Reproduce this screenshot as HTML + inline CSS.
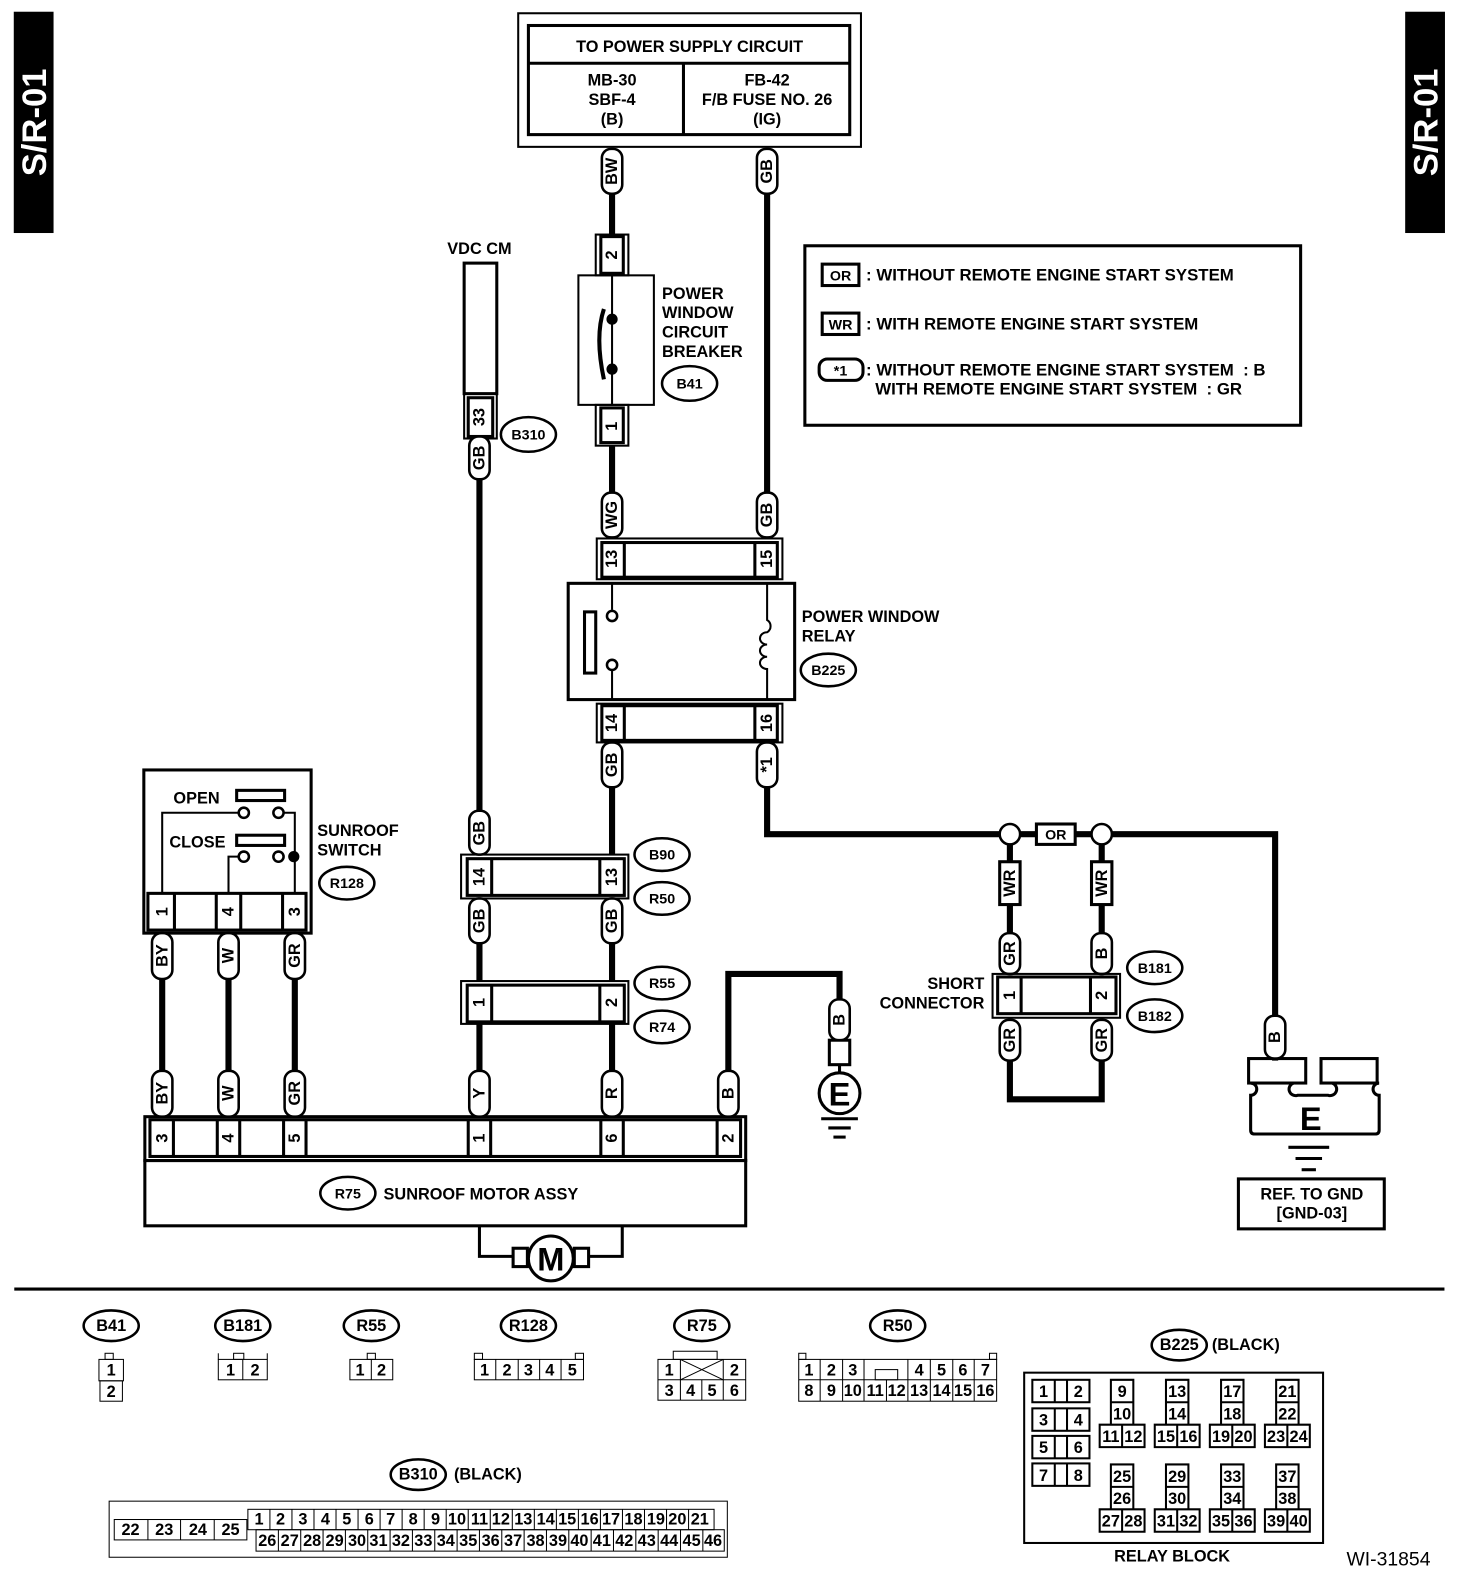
<!DOCTYPE html>
<html><head><meta charset="utf-8"><style>
html,body{margin:0;padding:0;background:#fff}
svg{display:block}
text{font-family:"Liberation Sans",sans-serif;font-weight:bold;font-size:16px;fill:#000}
.s{font-size:13px}
.o{font-size:14px}
.lg{font-size:16.5px}
.n{font-weight:normal;font-size:14px}
.w{fill:#fff;font-size:34px}
</style></head><body>
<svg width="1472" height="1596" viewBox="0 0 1443 1565" preserveAspectRatio="none" xmlns="http://www.w3.org/2000/svg">
<g fill="none" stroke="#000">
<rect x="14" y="12" width="38" height="216" fill="#000"/>
<rect x="1378" y="12" width="38" height="216" fill="#000"/>
<rect x="508" y="13" width="336" height="131" stroke-width="2"/>
<rect x="518" y="25" width="315" height="107" stroke-width="3"/>
<line x1="518" y1="62" x2="833" y2="62" stroke-width="3"/>
<line x1="670" y1="62" x2="670" y2="132" stroke-width="3"/>
<g stroke-width="6">
<line x1="600" y1="190" x2="600" y2="232"/>
<line x1="600" y1="437" x2="600" y2="483"/>
<line x1="752" y1="190" x2="752" y2="483"/>
<line x1="470" y1="468" x2="470" y2="795"/>
<line x1="600" y1="770" x2="600" y2="838"/>
<line x1="470" y1="925" x2="470" y2="962"/>
<line x1="600" y1="925" x2="600" y2="962"/>
<line x1="470" y1="1003" x2="470" y2="1050"/>
<line x1="600" y1="1003" x2="600" y2="1050"/>
<polyline points="752,770 752,818 1250,818 1250,1040"/>
<line x1="990" y1="828" x2="990" y2="915"/>
<line x1="1080" y1="828" x2="1080" y2="915"/>
<polyline points="990,1040 990,1078 1080,1078 1080,1040"/>
<polyline points="714,1050 714,955 823,955 823,980"/>
<line x1="159" y1="960" x2="159" y2="1050"/>
<line x1="224" y1="960" x2="224" y2="1050"/>
<line x1="289" y1="960" x2="289" y2="1050"/>
</g>
<rect x="584" y="230" width="32" height="40" stroke-width="2"/>
<rect x="589" y="232" width="22" height="36" stroke-width="3"/>
<rect x="567" y="270" width="74" height="127" stroke-width="2"/>
<line x1="600" y1="270" x2="600" y2="397" stroke-width="2"/>
<path d="M592 303 Q583 330 592 372" stroke-width="4"/>
<circle cx="600" cy="313" r="5" fill="#000"/><circle cx="600" cy="362" r="5" fill="#000"/>
<rect x="584" y="397" width="32" height="40" stroke-width="2"/>
<rect x="589" y="400" width="22" height="34" stroke-width="3"/>
<rect x="455" y="258" width="32" height="128" stroke-width="3"/>
<rect x="455" y="386" width="32" height="44" stroke-width="2"/>
<rect x="459" y="390" width="24" height="38" stroke-width="3"/>
<ellipse cx="518" cy="426" rx="27" ry="17" stroke-width="2.5"/>
<ellipse cx="676" cy="376" rx="27" ry="17" stroke-width="2.5"/>
<rect x="585" y="528" width="182" height="40" stroke-width="2"/>
<rect x="590" y="532" width="172" height="34" stroke-width="3"/>
<line x1="612" y1="532" x2="612" y2="566" stroke-width="3"/>
<line x1="740" y1="532" x2="740" y2="566" stroke-width="3"/>
<rect x="557" y="572" width="222" height="114" stroke-width="3"/>
<rect x="573" y="600" width="11" height="60" stroke-width="3"/>
<line x1="600" y1="572" x2="600" y2="598" stroke-width="2"/>
<circle cx="600" cy="604" r="5" stroke-width="2.5"/>
<circle cx="600" cy="652" r="5" stroke-width="2.5"/>
<line x1="600" y1="658" x2="600" y2="686" stroke-width="2"/>
<path d="M752 572 V608 a7 7 0 0 1 0 12 a7 6 0 0 0 0 12 a7 6 0 0 0 0 12 a7 6 0 0 0 0 12 V686 M752 620 a7 6 0 0 0 0 12 M752 632 a7 6 0 0 0 0 12 M752 644 a7 6 0 0 0 0 12" stroke-width="2"/>
<rect x="585" y="690" width="182" height="38" stroke-width="2"/>
<rect x="590" y="692" width="172" height="34" stroke-width="3"/>
<line x1="612" y1="692" x2="612" y2="726" stroke-width="3"/>
<line x1="740" y1="692" x2="740" y2="726" stroke-width="3"/>
<ellipse cx="812" cy="657" rx="27" ry="16" stroke-width="2.5"/>
<rect x="789" y="241" width="486" height="176" stroke-width="3"/>
<rect x="806" y="259" width="36" height="21" stroke-width="3"/>
<rect x="806" y="307" width="36" height="21" stroke-width="3"/>
<rect x="803" y="352" width="43" height="21" rx="8" stroke-width="3"/>
<rect x="452" y="838" width="164" height="43" stroke-width="2"/>
<rect x="458" y="842" width="154" height="36" stroke-width="3"/>
<line x1="482" y1="842" x2="482" y2="878" stroke-width="3"/>
<line x1="588" y1="842" x2="588" y2="878" stroke-width="3"/>
<ellipse cx="649" cy="838" rx="27" ry="16" stroke-width="2.5"/>
<ellipse cx="649" cy="881" rx="27" ry="16" stroke-width="2.5"/>
<rect x="452" y="962" width="164" height="42" stroke-width="2"/>
<rect x="458" y="966" width="154" height="36" stroke-width="3"/>
<line x1="482" y1="966" x2="482" y2="1002" stroke-width="3"/>
<line x1="588" y1="966" x2="588" y2="1002" stroke-width="3"/>
<ellipse cx="649" cy="964" rx="27" ry="16" stroke-width="2.5"/>
<ellipse cx="649" cy="1007" rx="27" ry="16" stroke-width="2.5"/>
<rect x="141" y="755" width="164" height="160" stroke-width="3"/>
<rect x="145" y="876" width="155" height="36" stroke-width="3"/>
<line x1="171" y1="876" x2="171" y2="912" stroke-width="3"/>
<line x1="212" y1="876" x2="212" y2="912" stroke-width="3"/>
<line x1="236" y1="876" x2="236" y2="912" stroke-width="3"/>
<line x1="277" y1="876" x2="277" y2="912" stroke-width="3"/>
<rect x="232" y="775" width="47" height="10" stroke-width="3"/>
<rect x="232" y="819" width="47" height="10" stroke-width="3"/>
<circle cx="239" cy="797" r="5" stroke-width="2.5"/><circle cx="273" cy="797" r="5" stroke-width="2.5"/>
<circle cx="239" cy="840" r="5" stroke-width="2.5"/><circle cx="273" cy="840" r="5" stroke-width="2.5"/>
<circle cx="288" cy="840" r="5" fill="#000"/>
<polyline points="159,876 159,797 234,797" stroke-width="2"/>
<polyline points="278,797 289,797 289,876" stroke-width="2"/>
<polyline points="234,840 224,840 224,876" stroke-width="2"/>
<ellipse cx="340" cy="866" rx="27" ry="16" stroke-width="2.5"/>
<rect x="142" y="1095" width="589" height="43" stroke-width="3"/>
<rect x="147" y="1098" width="579" height="36" stroke-width="3"/>
<g stroke-width="3">
<line x1="170" y1="1098" x2="170" y2="1134"/><line x1="213" y1="1098" x2="213" y2="1134"/><line x1="235" y1="1098" x2="235" y2="1134"/><line x1="278" y1="1098" x2="278" y2="1134"/><line x1="300" y1="1098" x2="300" y2="1134"/>
<line x1="459" y1="1098" x2="459" y2="1134"/><line x1="481" y1="1098" x2="481" y2="1134"/><line x1="589" y1="1098" x2="589" y2="1134"/><line x1="611" y1="1098" x2="611" y2="1134"/><line x1="703" y1="1098" x2="703" y2="1134"/>
</g>
<rect x="142" y="1138" width="589" height="64" stroke-width="3"/>
<ellipse cx="341" cy="1170" rx="27" ry="16" stroke-width="2.5"/>
<polyline points="470,1202 470,1232 503,1232" stroke-width="3"/>
<polyline points="610,1202 610,1232 577,1232" stroke-width="3"/>
<rect x="503" y="1224" width="14" height="18" stroke-width="3"/>
<rect x="563" y="1224" width="14" height="18" stroke-width="3"/>
<circle cx="540" cy="1234" r="22" stroke-width="3" fill="#fff"/>
<circle cx="990" cy="818" r="10" stroke-width="2.5" fill="#fff"/>
<circle cx="1080" cy="818" r="10" stroke-width="2.5" fill="#fff"/>
<rect x="1016" y="808" width="38" height="20" stroke-width="3" fill="#fff"/>
<rect x="980" y="845" width="20" height="42" stroke-width="3" fill="#fff"/>
<rect x="1070" y="845" width="20" height="42" stroke-width="3" fill="#fff"/>
<rect x="973" y="955" width="125" height="43" stroke-width="2"/>
<rect x="978" y="958" width="116" height="36" stroke-width="3"/>
<line x1="1001" y1="958" x2="1001" y2="994" stroke-width="3"/>
<line x1="1069" y1="958" x2="1069" y2="994" stroke-width="3"/>
<ellipse cx="1132" cy="949" rx="27" ry="16" stroke-width="2.5"/>
<ellipse cx="1132" cy="996" rx="27" ry="16" stroke-width="2.5"/>
<rect x="813" y="1020" width="20" height="24" stroke-width="3"/>
<line x1="823" y1="1044" x2="823" y2="1052" stroke-width="3"/>
<circle cx="823" cy="1072" r="20" stroke-width="3"/>
<line x1="805" y1="1097" x2="841" y2="1097" stroke-width="3"/>
<line x1="812" y1="1106" x2="834" y2="1106" stroke-width="3"/>
<line x1="817" y1="1115" x2="829" y2="1115" stroke-width="3"/>
<rect x="1224" y="1038" width="56" height="24" stroke-width="3"/>
<rect x="1295" y="1038" width="55" height="24" stroke-width="3"/>
<path d="M1226 1062 a6 6 0 0 1 0 12 V1108 q0 4 4 4 H1348 q4 0 4 -4 V1074 a6 6 0 0 1 0 -12 M1268 1062 a6 6 0 0 0 4 12 H1302 a6 6 0 0 0 4 -12" stroke-width="3"/>
<line x1="1263" y1="1125" x2="1303" y2="1125" stroke-width="3"/>
<line x1="1270" y1="1136" x2="1296" y2="1136" stroke-width="3"/>
<line x1="1276" y1="1147" x2="1290" y2="1147" stroke-width="3"/>
<rect x="1214" y="1156" width="143" height="49" stroke-width="3"/>
<line x1="14" y1="1264" x2="1416" y2="1264" stroke-width="3"/>
<g stroke-width="2.5">
<ellipse cx="109" cy="1300" rx="27" ry="15"/><ellipse cx="238" cy="1300" rx="27" ry="15"/><ellipse cx="364" cy="1300" rx="27" ry="15"/><ellipse cx="518" cy="1300" rx="27" ry="15"/><ellipse cx="688" cy="1300" rx="27" ry="15"/><ellipse cx="880" cy="1300" rx="27" ry="15"/>
<ellipse cx="410" cy="1446" rx="27" ry="15"/><ellipse cx="1156" cy="1319" rx="27" ry="15"/>
</g>
<g stroke-width="1">
<rect x="103" y="1327" width="8" height="6"/><rect x="97" y="1333" width="24" height="21"/><rect x="98" y="1354" width="22" height="20"/>
<rect x="214" y="1333" width="48" height="20"/><line x1="238" y1="1333" x2="238" y2="1353"/><rect x="229" y="1327" width="10" height="6"/><line x1="214" y1="1327" x2="214" y2="1333"/><line x1="262" y1="1327" x2="262" y2="1333"/>
<rect x="343" y="1333" width="42" height="20"/><line x1="364" y1="1333" x2="364" y2="1353"/><rect x="360" y="1327" width="8" height="6"/>
<rect x="465" y="1333" width="107" height="20"/><line x1="486" y1="1333" x2="486" y2="1353"/><line x1="508" y1="1333" x2="508" y2="1353"/><line x1="529" y1="1333" x2="529" y2="1353"/><line x1="550" y1="1333" x2="550" y2="1353"/><rect x="465" y="1327" width="8" height="6"/><rect x="564" y="1327" width="8" height="6"/>
<rect x="660" y="1325" width="43" height="8"/><rect x="645" y="1333" width="86" height="40"/><line x1="645" y1="1353" x2="731" y2="1353"/><line x1="667" y1="1333" x2="667" y2="1373"/><line x1="709" y1="1333" x2="709" y2="1373"/><line x1="688" y1="1353" x2="688" y2="1373"/><line x1="667" y1="1333" x2="709" y2="1353"/><line x1="709" y1="1333" x2="667" y2="1353"/>
<rect x="783" y="1333" width="194" height="41"/><line x1="783" y1="1353" x2="977" y2="1353"/><rect x="783" y="1327" width="7" height="6"/><rect x="970" y="1327" width="7" height="6"/>
<line x1="804" y1="1333" x2="804" y2="1374"/><line x1="826" y1="1333" x2="826" y2="1374"/><line x1="847" y1="1333" x2="847" y2="1374"/><line x1="869" y1="1353" x2="869" y2="1374"/><line x1="890" y1="1333" x2="890" y2="1374"/><line x1="912" y1="1333" x2="912" y2="1374"/><line x1="934" y1="1333" x2="934" y2="1374"/><line x1="955" y1="1333" x2="955" y2="1374"/>
<rect x="858" y="1343" width="22" height="10"/>
<rect x="107" y="1472" width="606" height="55"/>
<rect x="112" y="1490" width="130" height="20"/><line x1="145" y1="1490" x2="145" y2="1510"/><line x1="177" y1="1490" x2="177" y2="1510"/><line x1="210" y1="1490" x2="210" y2="1510"/>
<rect x="243" y="1480" width="457" height="20"/><rect x="251" y="1500" width="459" height="21"/>
<path d="M264.6 1480v20M286.2 1480v20M307.8 1480v20M329.4 1480v20M351 1480v20M372.6 1480v20M394.2 1480v20M415.8 1480v20M437.4 1480v20M459 1480v20M480.6 1480v20M502.2 1480v20M523.8 1480v20M545.4 1480v20M567 1480v20M588.6 1480v20M610.2 1480v20M631.8 1480v20M653.4 1480v20M675 1480v20"/>
<path d="M272.9 1500v21M294.8 1500v21M316.7 1500v21M338.6 1500v21M360.5 1500v21M382.4 1500v21M404.3 1500v21M426.2 1500v21M448.1 1500v21M470 1500v21M491.9 1500v21M513.8 1500v21M535.7 1500v21M557.6 1500v21M579.5 1500v21M601.4 1500v21M623.3 1500v21M645.2 1500v21M667.1 1500v21M689 1500v21"/>
<rect x="1004" y="1346" width="293" height="167" stroke-width="2"/>
<g stroke-width="2">
<rect x="1012" y="1353" width="56" height="22"/><line x1="1034" y1="1353" x2="1034" y2="1375"/><line x1="1046" y1="1353" x2="1046" y2="1375"/>
<rect x="1012" y="1381" width="56" height="22"/><line x1="1034" y1="1381" x2="1034" y2="1403"/><line x1="1046" y1="1381" x2="1046" y2="1403"/>
<rect x="1012" y="1408" width="56" height="22"/><line x1="1034" y1="1408" x2="1034" y2="1430"/><line x1="1046" y1="1408" x2="1046" y2="1430"/>
<rect x="1012" y="1435" width="56" height="22"/><line x1="1034" y1="1435" x2="1034" y2="1457"/><line x1="1046" y1="1435" x2="1046" y2="1457"/>
<path d="M1089 1353h22v44h-22zM1089 1375h22M1078 1397h44v22h-44zM1100 1397v22"/>
<path d="M1143 1353h22v44h-22zM1143 1375h22M1132 1397h44v22h-44zM1154 1397v22"/>
<path d="M1197 1353h22v44h-22zM1197 1375h22M1186 1397h44v22h-44zM1208 1397v22"/>
<path d="M1251 1353h22v44h-22zM1251 1375h22M1240 1397h44v22h-44zM1262 1397v22"/>
<path d="M1089 1436h22v44h-22zM1089 1458h22M1078 1480h44v22h-44zM1100 1480v22"/>
<path d="M1143 1436h22v44h-22zM1143 1458h22M1132 1480h44v22h-44zM1154 1480v22"/>
<path d="M1197 1436h22v44h-22zM1197 1458h22M1186 1480h44v22h-44zM1208 1480v22"/>
<path d="M1251 1436h22v44h-22zM1251 1458h22M1240 1480h44v22h-44zM1262 1480v22"/>
</g>
</g>
<g stroke-width="2.5" fill="#fff">
<rect x="590" y="146" width="20" height="44" rx="9"/>
<rect x="742" y="146" width="20" height="44" rx="9"/>
<rect x="460" y="428" width="20" height="42" rx="9"/>
<rect x="590" y="483" width="20" height="44" rx="9"/>
<rect x="742" y="483" width="20" height="44" rx="9"/>
<rect x="590" y="728" width="20" height="44" rx="9"/>
<rect x="742" y="728" width="20" height="44" rx="9"/>
<rect x="460" y="795" width="20" height="43" rx="9"/>
<rect x="460" y="881" width="20" height="44" rx="9"/>
<rect x="590" y="881" width="20" height="44" rx="9"/>
<rect x="149" y="915" width="20" height="45" rx="9"/>
<rect x="214" y="915" width="20" height="45" rx="9"/>
<rect x="279" y="915" width="20" height="45" rx="9"/>
<rect x="149" y="1050" width="20" height="45" rx="9"/>
<rect x="214" y="1050" width="20" height="45" rx="9"/>
<rect x="279" y="1050" width="20" height="45" rx="9"/>
<rect x="460" y="1050" width="20" height="45" rx="9"/>
<rect x="590" y="1050" width="20" height="45" rx="9"/>
<rect x="704" y="1050" width="20" height="45" rx="9"/>
<rect x="813" y="980" width="20" height="40" rx="9"/>
<rect x="980" y="915" width="20" height="40" rx="9"/>
<rect x="1070" y="915" width="20" height="40" rx="9"/>
<rect x="980" y="1000" width="20" height="40" rx="9"/>
<rect x="1070" y="1000" width="20" height="40" rx="9"/>
<rect x="1240" y="996" width="20" height="42" rx="9"/>
</g>
</g>
<text class="w" transform="translate(45,120) rotate(-90)" text-anchor="middle">S/R-01</text>
<text class="w" transform="translate(1409,120) rotate(-90)" text-anchor="middle">S/R-01</text>
<text x="676" y="51" text-anchor="middle">TO POWER SUPPLY CIRCUIT</text>
<text x="600" y="84" text-anchor="middle">MB-30</text><text x="600" y="103" text-anchor="middle">SBF-4</text><text x="600" y="122" text-anchor="middle">(B)</text>
<text x="752" y="84" text-anchor="middle">FB-42</text><text x="752" y="103" text-anchor="middle">F/B FUSE NO. 26</text><text x="752" y="122" text-anchor="middle">(IG)</text>
<g class="s" text-anchor="middle">
<text transform="translate(605,168) rotate(-90)">BW</text>
<text transform="translate(757,168) rotate(-90)">GB</text>
<text transform="translate(605,250) rotate(-90)">2</text>
<text transform="translate(605,418) rotate(-90)">1</text>
<text transform="translate(475,409) rotate(-90)">33</text>
<text transform="translate(475,449) rotate(-90)">GB</text>
<text transform="translate(605,505) rotate(-90)">WG</text>
<text transform="translate(757,505) rotate(-90)">GB</text>
<text transform="translate(605,548) rotate(-90)">13</text>
<text transform="translate(757,548) rotate(-90)">15</text>
<text transform="translate(605,709) rotate(-90)">14</text>
<text transform="translate(757,709) rotate(-90)">16</text>
<text transform="translate(605,750) rotate(-90)">GB</text>
<text transform="translate(757,750) rotate(-90)">*1</text>
<text transform="translate(475,817) rotate(-90)">GB</text>
<text transform="translate(475,860) rotate(-90)">14</text>
<text transform="translate(605,860) rotate(-90)">13</text>
<text transform="translate(475,903) rotate(-90)">GB</text>
<text transform="translate(605,903) rotate(-90)">GB</text>
<text transform="translate(475,983) rotate(-90)">1</text>
<text transform="translate(605,983) rotate(-90)">2</text>
<text transform="translate(164,894) rotate(-90)">1</text>
<text transform="translate(229,894) rotate(-90)">4</text>
<text transform="translate(294,894) rotate(-90)">3</text>
<text transform="translate(164,937) rotate(-90)">BY</text>
<text transform="translate(229,937) rotate(-90)">W</text>
<text transform="translate(294,937) rotate(-90)">GR</text>
<text transform="translate(164,1072) rotate(-90)">BY</text>
<text transform="translate(229,1072) rotate(-90)">W</text>
<text transform="translate(294,1072) rotate(-90)">GR</text>
<text transform="translate(475,1072) rotate(-90)">Y</text>
<text transform="translate(605,1072) rotate(-90)">R</text>
<text transform="translate(719,1072) rotate(-90)">B</text>
<text transform="translate(164,1116) rotate(-90)">3</text>
<text transform="translate(229,1116) rotate(-90)">4</text>
<text transform="translate(294,1116) rotate(-90)">5</text>
<text transform="translate(475,1116) rotate(-90)">1</text>
<text transform="translate(605,1116) rotate(-90)">6</text>
<text transform="translate(719,1116) rotate(-90)">2</text>
<text transform="translate(828,1000) rotate(-90)">B</text>
<text transform="translate(995,866) rotate(-90)">WR</text>
<text transform="translate(1085,866) rotate(-90)">WR</text>
<text transform="translate(995,935) rotate(-90)">GR</text>
<text transform="translate(1085,935) rotate(-90)">B</text>
<text transform="translate(995,976) rotate(-90)">1</text>
<text transform="translate(1085,976) rotate(-90)">2</text>
<text transform="translate(995,1020) rotate(-90)">GR</text>
<text transform="translate(1085,1020) rotate(-90)">GR</text>
<text transform="translate(1255,1017) rotate(-90)">B</text>
</g>
<text x="470" y="249" text-anchor="middle">VDC CM</text>
<text x="649" y="293">POWER</text><text x="649" y="312">WINDOW</text><text x="649" y="331">CIRCUIT</text><text x="649" y="350">BREAKER</text>
<text x="676" y="381" text-anchor="middle" class="o">B41</text>
<text x="518" y="431" text-anchor="middle" class="o">B310</text>
<text x="786" y="610">POWER WINDOW</text><text x="786" y="629">RELAY</text>
<text x="812" y="662" text-anchor="middle" class="o">B225</text>
<text x="824" y="275" text-anchor="middle" class="o">OR</text>
<text x="824" y="323" text-anchor="middle" class="o">WR</text>
<text x="824" y="368" text-anchor="middle" class="o">*1</text>
<text x="849" y="275" class="lg">: WITHOUT REMOTE ENGINE START SYSTEM</text>
<text x="849" y="323" class="lg">: WITH REMOTE ENGINE START SYSTEM</text>
<text x="849" y="368" class="lg">: WITHOUT REMOTE ENGINE START SYSTEM &#160;: B</text>
<text x="858" y="387" class="lg">WITH REMOTE ENGINE START SYSTEM &#160;: GR</text>
<text x="170" y="788">OPEN</text><text x="166" y="831">CLOSE</text>
<text x="311" y="820">SUNROOF</text><text x="311" y="839">SWITCH</text>
<text x="340" y="871" text-anchor="middle" class="o">R128</text>
<text x="649" y="843" text-anchor="middle" class="o">B90</text><text x="649" y="886" text-anchor="middle" class="o">R50</text>
<text x="649" y="969" text-anchor="middle" class="o">R55</text><text x="649" y="1012" text-anchor="middle" class="o">R74</text>
<text x="341" y="1175" text-anchor="middle" class="o">R75</text><text x="376" y="1176">SUNROOF MOTOR ASSY</text>
<text x="540" y="1246" text-anchor="middle" style="font-size:32px">M</text>
<text x="1035" y="823" text-anchor="middle" class="o">OR</text>
<text x="965" y="970" text-anchor="end">SHORT</text><text x="965" y="989" text-anchor="end">CONNECTOR</text>
<text x="1132" y="954" text-anchor="middle" class="o">B181</text><text x="1132" y="1001" text-anchor="middle" class="o">B182</text>
<text x="823" y="1084" text-anchor="middle" style="font-size:32px">E</text>
<text x="1285" y="1108" text-anchor="middle" style="font-size:32px">E</text>
<text x="1286" y="1176" text-anchor="middle">REF. TO GND</text><text x="1286" y="1195" text-anchor="middle">[GND-03]</text>
<g text-anchor="middle" class="o">
<text x="109" y="1305">B41</text><text x="238" y="1305">B181</text><text x="364" y="1305">R55</text><text x="518" y="1305">R128</text><text x="688" y="1305">R75</text><text x="880" y="1305">R50</text>
<text x="410" y="1451">B310</text><text x="1156" y="1324">B225</text>
</g>
<text x="445" y="1451">(BLACK)</text><text x="1188" y="1324">(BLACK)</text>
<text x="1149" y="1531" text-anchor="middle">RELAY BLOCK</text>
<text x="1320" y="1535" class="n" style="font-size:19px">WI-31854</text>
<g class="n" text-anchor="middle">
<text x="109" y="1349">1</text><text x="109" y="1370">2</text>
<text x="226" y="1349">1</text><text x="250" y="1349">2</text>
<text x="353" y="1349">1</text><text x="374" y="1349">2</text>
<text x="475" y="1349">1</text><text x="497" y="1349">2</text><text x="518" y="1349">3</text><text x="539" y="1349">4</text><text x="561" y="1349">5</text>
<text x="656" y="1349">1</text><text x="720" y="1349">2</text><text x="656" y="1369">3</text><text x="677" y="1369">4</text><text x="698" y="1369">5</text><text x="720" y="1369">6</text>
<text x="793" y="1349">1</text><text x="815" y="1349">2</text><text x="836" y="1349">3</text><text x="901" y="1349">4</text><text x="923" y="1349">5</text><text x="944" y="1349">6</text><text x="966" y="1349">7</text>
</g>
<g class="n" text-anchor="middle" style="font-size:12px">
<text x="793" y="1369">8</text><text x="815" y="1369">9</text><text x="836" y="1369">10</text><text x="858" y="1369">11</text><text x="879" y="1369">12</text><text x="901" y="1369">13</text><text x="923" y="1369">14</text><text x="944" y="1369">15</text><text x="966" y="1369">16</text>
<text x="128" y="1505">22</text><text x="161" y="1505">23</text><text x="194" y="1505">24</text><text x="226" y="1505">25</text>
<text x="254" y="1495">1</text><text x="275" y="1495">2</text><text x="297" y="1495">3</text><text x="319" y="1495">4</text><text x="340" y="1495">5</text><text x="362" y="1495">6</text><text x="383" y="1495">7</text><text x="405" y="1495">8</text><text x="427" y="1495">9</text><text x="448" y="1495">10</text><text x="470" y="1495">11</text><text x="491" y="1495">12</text><text x="513" y="1495">13</text><text x="535" y="1495">14</text><text x="556" y="1495">15</text><text x="578" y="1495">16</text><text x="599" y="1495">17</text><text x="621" y="1495">18</text><text x="643" y="1495">19</text><text x="664" y="1495">20</text><text x="686" y="1495">21</text>
<text x="262" y="1516">26</text><text x="284" y="1516">27</text><text x="306" y="1516">28</text><text x="328" y="1516">29</text><text x="350" y="1516">30</text><text x="371" y="1516">31</text><text x="393" y="1516">32</text><text x="415" y="1516">33</text><text x="437" y="1516">34</text><text x="459" y="1516">35</text><text x="481" y="1516">36</text><text x="503" y="1516">37</text><text x="525" y="1516">38</text><text x="547" y="1516">39</text><text x="568" y="1516">40</text><text x="590" y="1516">41</text><text x="612" y="1516">42</text><text x="634" y="1516">43</text><text x="656" y="1516">44</text><text x="678" y="1516">45</text><text x="699" y="1516">46</text>
</g>
<g class="n" text-anchor="middle" style="font-size:15px">
<text x="1023" y="1370">1</text><text x="1057" y="1370">2</text><text x="1023" y="1398">3</text><text x="1057" y="1398">4</text><text x="1023" y="1425">5</text><text x="1057" y="1425">6</text><text x="1023" y="1452">7</text><text x="1057" y="1452">8</text>
<text x="1100" y="1370">9</text><text x="1100" y="1392">10</text><text x="1089" y="1414">11</text><text x="1111" y="1414">12</text>
<text x="1154" y="1370">13</text><text x="1154" y="1392">14</text><text x="1143" y="1414">15</text><text x="1165" y="1414">16</text>
<text x="1208" y="1370">17</text><text x="1208" y="1392">18</text><text x="1197" y="1414">19</text><text x="1219" y="1414">20</text>
<text x="1262" y="1370">21</text><text x="1262" y="1392">22</text><text x="1251" y="1414">23</text><text x="1273" y="1414">24</text>
<text x="1100" y="1453">25</text><text x="1100" y="1475">26</text><text x="1089" y="1497">27</text><text x="1111" y="1497">28</text>
<text x="1154" y="1453">29</text><text x="1154" y="1475">30</text><text x="1143" y="1497">31</text><text x="1165" y="1497">32</text>
<text x="1208" y="1453">33</text><text x="1208" y="1475">34</text><text x="1197" y="1497">35</text><text x="1219" y="1497">36</text>
<text x="1262" y="1453">37</text><text x="1262" y="1475">38</text><text x="1251" y="1497">39</text><text x="1273" y="1497">40</text>
</g>
</svg>
</body></html>
